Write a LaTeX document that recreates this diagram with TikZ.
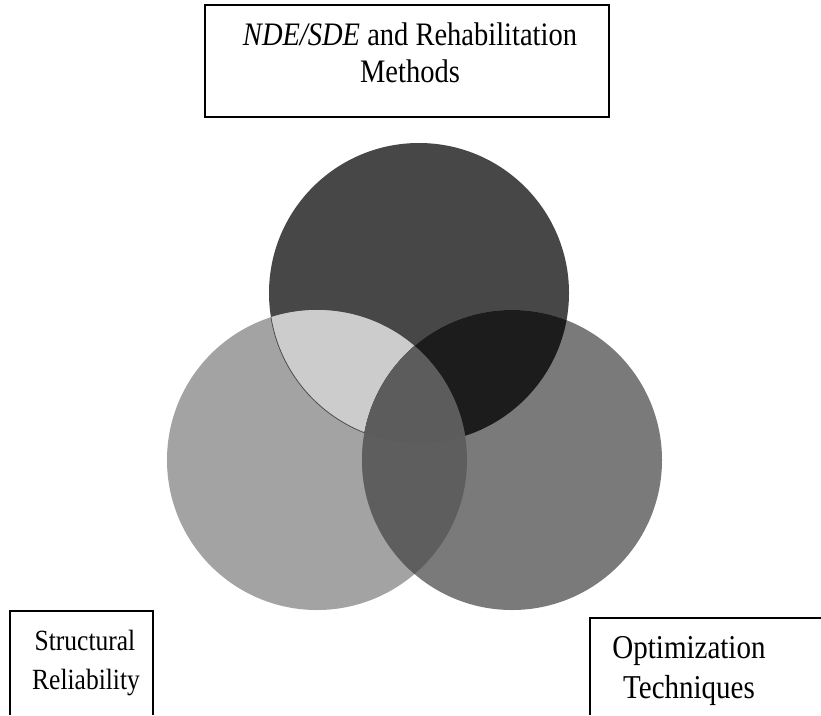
\documentclass[tikz,border=0pt]{standalone}
\usepackage{fontspec}
\setmainfont{Liberation Serif}
\definecolor{topc}{gray}{0.28}
\definecolor{leftc}{gray}{0.64}
\definecolor{rightc}{gray}{0.48}
\definecolor{tlc}{gray}{0.80}
\definecolor{trc}{gray}{0.11}
\definecolor{lrc}{gray}{0.37}
\definecolor{tlrc}{gray}{0.36}
\newcommand{\tall}[1]{\scalebox{1}[1.15]{#1}}
\begin{document}
\begin{tikzpicture}[x=1pt,y=-1pt,
  frame/.style={draw=black,line width=1.3pt},
  label/.style={inner sep=0pt,anchor=base},
  rad/.style={radius=150}]
\useasboundingbox (0,0) rectangle (821,715);
\fill[white] (0,0) rectangle (821,715);

% circle centres
\coordinate (ct) at (419,293);
\coordinate (cl) at (317,460);
\coordinate (cr) at (512,460);

% single regions
\fill[topc] (ct) circle[rad];
\fill[leftc] (cl) circle[rad];
\begin{scope}
  \clip (ct) circle[rad];
  \fill[tlc] (cl) circle[rad];
\end{scope}
\begin{scope}
  \clip (cl) circle[rad];
  \draw[black!70,line width=0.8pt] (ct) circle[rad];
\end{scope}
\fill[rightc] (cr) circle[rad];
% overlaps with the right circle
\begin{scope}
  \clip (ct) circle[rad];
  \fill[trc] (cr) circle[rad];
\end{scope}
\begin{scope}
  \clip (cl) circle[rad];
  \fill[lrc] (cr) circle[rad];
\end{scope}
\begin{scope}
  \clip (ct) circle[rad];
  \clip (cl) circle[rad];
  \fill[tlrc] (cr) circle[rad];
\end{scope}

% top box
\node[frame,minimum width=404pt,minimum height=112pt,inner sep=0pt] (topbox) at (407,61) {};
\node[label,font=\fontsize{28.5}{34}\selectfont] (t1) at (410,45) {\tall{\textit{NDE/SDE} and Rehabilitation}};
\node[label,font=\fontsize{28.5}{34}\selectfont] (t2) at (410,82) {\tall{Methods}};

% bottom left box (open at the bottom)
\coordinate (lb1) at (10,715);
\coordinate (lb2) at (153,611);
\coordinate (lb3) at (153,715);
\draw[frame] (lb1) |- (lb2) -- (lb3);
\node[label,font=\fontsize{25.5}{30}\selectfont] (l1) at (85,650) {\tall{Structural}};
\node[label,font=\fontsize{25.5}{30}\selectfont] (l2) at (86,689) {\tall{Reliability}};

% bottom right box (open at the bottom and right)
\coordinate (rb1) at (590,715);
\coordinate (rb2) at (821,618);
\draw[frame] (rb1) |- (rb2);
\node[label,font=\fontsize{29}{34}\selectfont] (r1) at (689,658) {\tall{Optimization}};
\node[label,font=\fontsize{29}{34}\selectfont] (r2) at (689,698) {\tall{Techniques}};
\end{tikzpicture}
\end{document}
